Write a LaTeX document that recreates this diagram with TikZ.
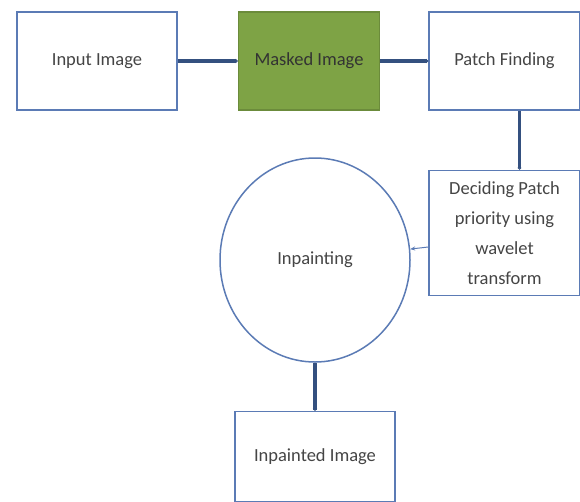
\documentclass[tikz,border=0pt]{standalone}
\usepackage{fontspec}
\setmainfont{Carlito}
\usepackage{tikz}
\usetikzlibrary{arrows.meta}
\usetikzlibrary{positioning}
\usetikzlibrary{shapes.geometric}
\definecolor{boxblue}{HTML}{5B7BB5}
\definecolor{linkblue}{HTML}{34507F}
\definecolor{maskgreen}{HTML}{7EA345}
\definecolor{textgrey}{HTML}{454545}
\tikzset{blockbox/.style={draw=boxblue, line width=1.5pt, fill=white, text=textgrey,
   minimum height=98pt, align=center, inner sep=2pt}}
\tikzset{maskbox/.style={blockbox, draw=maskgreen!85!black, fill=maskgreen, text=black!80}}
\tikzset{link/.style={-{Stealth[length=2pt,width=4pt]}, draw=linkblue, line width=3.2pt}}
\tikzset{thinlink/.style={-{Stealth[length=5pt,width=4pt]}, draw=boxblue, line width=1pt}}

\begin{document}
\begin{tikzpicture}[x=1pt,y=1pt,font=\fontsize{18.5}{30}\selectfont]
   \useasboundingbox (0,0) rectangle (580,-501);

   \node[blockbox, minimum width=160pt] (input) at (97,-61) {Input Image};
   \node[maskbox, minimum width=141pt] (masked) [right=60pt of input] {Masked Image};
   \node[blockbox, minimum width=151pt] (patch) [right=48pt of masked] {Patch Finding};
   \node[blockbox, minimum width=151pt, minimum height=125pt] (decide) [below=59pt of patch]
      {Deciding Patch\\priority using\\wavelet\\transform};
   \node[blockbox, ellipse, minimum width=190pt, minimum height=204pt] (inpaint) at (315,-260)
      {Inpainting};
   \node[blockbox, minimum width=160pt, minimum height=90pt] (result) [below=48pt of inpaint]
      {Inpainted Image};

   \path
      (input) edge [link] (masked)
      (masked) edge [link] (patch)
      ([xshift=15pt]patch.south) edge [link] ([xshift=15pt]decide.north)
      ([yshift=-14pt]decide.west) edge [thinlink] (inpaint)
      (inpaint) edge [link] (result)
   ;
\end{tikzpicture}
\end{document}
